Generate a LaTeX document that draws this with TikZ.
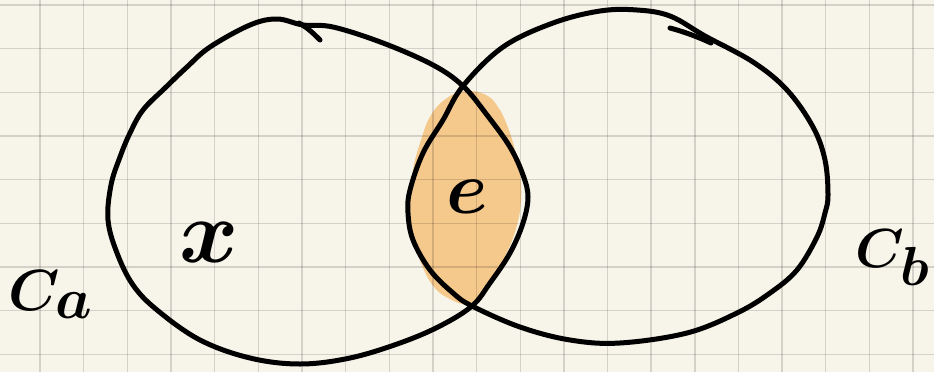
\documentclass[tikz,border=0pt]{standalone}
\definecolor{paper}{RGB}{247,245,233}
\definecolor{lens}{RGB}{245,200,140}
\tikzset{
  ink/.style={line width=5pt, line cap=round, line join=round, draw=black},
  gridline/.style={draw=black, draw opacity=0.14, line width=1.4pt},
  lbl/.style={inner sep=0pt, text=black},
}
\begin{document}
\begin{tikzpicture}[x=1pt,y=-1pt]
\useasboundingbox (0,0) rectangle (934,372);
\begin{scope}
\clip (0,0) rectangle (934,372);
\fill[paper] (0,0) rectangle (934,372);
% orange lens fill
\fill[lens] plot[smooth cycle, tension=0.7] coordinates {
  (466,91) (486,95) (498,107) (507,125) (515,150) (520,175) (521,200)
  (517,225) (508,250) (495,275) (478,297) (465,304) (448,298) (435,288)
  (424,270) (414,240) (410,205) (413,170) (421,140) (431,115) (447,98)};
% grid
\foreach \gx in {40,83.7,127.3,171,214.6,258.3,301.9,345.6,389.2,432.9,476.5,520.2,563.8,607.5,651.1,694.8,738.4,782.1,825.7,869.4,913}
  {\draw[gridline] (\gx,0) -- (\gx,372);}
\foreach \gy in {5,48.7,92.3,136,179.6,223.3,266.9,310.6,354.2}
  {\draw[gridline] (0,\gy) -- (934,\gy);}
% left set
\draw[ink] plot[smooth cycle, tension=0.6] coordinates {
  (277,19) (303,25) (333,27) (383,43) (433,65) (463,86) (487,115) (510,147)
  (523,175) (528,197) (523,223) (510,253) (490,283) (472,306) (440,326)
  (400,343) (350,358) (300,364) (250,358) (200,340) (157,310) (133,285)
  (117,253) (108,220) (111,185) (120,157) (130,133) (143,110) (165,88)
  (187,67) (210,47) (250,25)};
\draw[ink] (299,23) .. controls (308,28) and (314,34) .. (320,40);
% right set
\draw[ink] plot[smooth cycle, tension=0.6] coordinates {
  (600,11) (637,10) (670,16) (705,36) (753,62) (787,90) (813,127) (825,160)
  (828,195) (825,213) (817,237) (797,270) (770,293) (737,313) (687,333)
  (620,343) (570,340) (520,327) (472,306) (453,293) (430,270) (413,240)
  (408,213) (410,190) (423,153) (443,120) (463,86) (503,47) (553,23)};
\draw[ink] (670,28) .. controls (685,32) and (698,37) .. (711,43);
% labels
\node[lbl, anchor=base] (e) at (467,213) {\scalebox{7.5}{\boldmath$e$}};
\node[lbl, anchor=base] (x) at (209,262) {\scalebox{9}{\boldmath$x$}};
\node[lbl, anchor=base west] (ca) at (8,310) {\scalebox{5.8}{\boldmath$C_{\textstyle a}$}};
\node[lbl, anchor=base west] (cb) at (855,267) {\scalebox{5.5}{\boldmath$C_{\textstyle b}$}};
\end{scope}
\end{tikzpicture}
\end{document}
